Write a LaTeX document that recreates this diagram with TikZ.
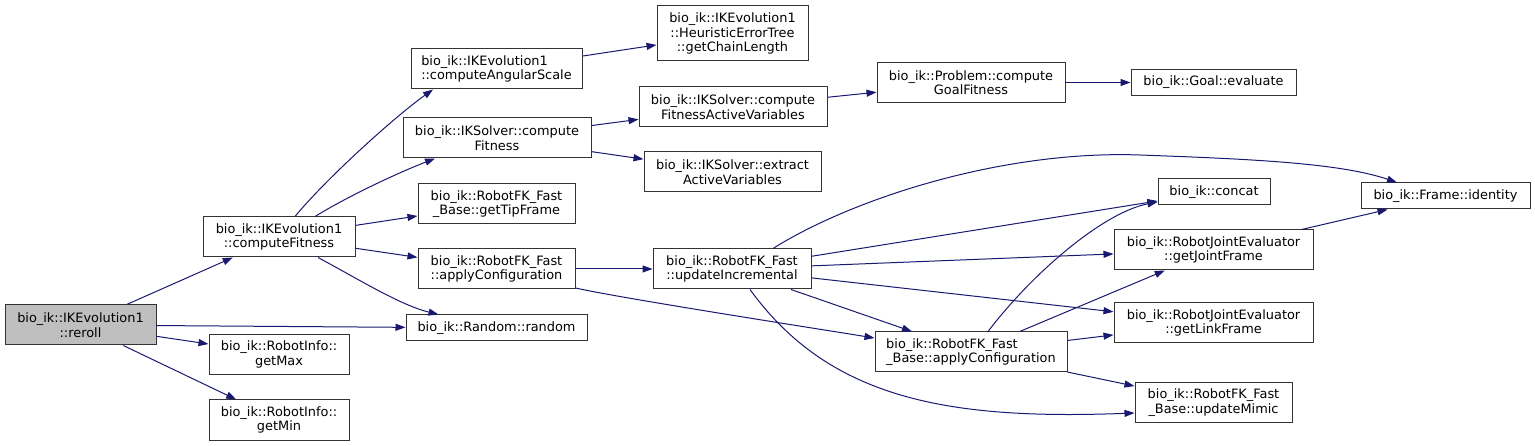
\documentclass[tikz,border=0pt]{standalone}
\usepackage{fontspec}
\setmainfont{DejaVu Sans}
\usepackage{tikz}
\usetikzlibrary{positioning,arrows.meta,calc}
\definecolor{EdgeBlue}{RGB}{25,25,112}
\tikzset{>={Triangle[length=10pt,width=7pt]}}
\tikzset{
  fn/.style={draw=black!80, line width=1pt, rectangle, inner sep=0pt, minimum height=40pt, align=center,
    font=\fontsize{12.9pt}{14.5pt}\selectfont},
  call/.style={EdgeBlue, line width=1pt, ->}
}
\begin{document}
\begin{tikzpicture}[x=1pt, y=-1pt]
  \useasboundingbox (0,0) rectangle (1535,446);
  % first column
  \node[fn, fill=black!25, minimum width=151pt] (reroll) at (80.5,325) {bio\_ik::IKEvolution1\\::reroll};
  % second column
  \node[fn, minimum width=152pt] (cf) at (279,237) {bio\_ik::IKEvolution1\\::computeFitness};
  \node[fn, minimum width=140pt] (max) at (279,354.5) {bio\_ik::RobotInfo::\\getMax};
  \node[fn, minimum width=140pt] (min) at (279,420) {bio\_ik::RobotInfo::\\getMin};
  % third column
  \node[fn, minimum width=171pt, align=left] (asc) at (496.5,69) {bio\_ik::IKEvolution1\\::computeAngularScale};
  \node[fn, minimum width=188pt] (iks) at (497,138) {bio\_ik::IKSolver::compute\\Fitness};
  \node[fn, minimum width=157pt] (tip) at (496.5,204) {bio\_ik::RobotFK\_Fast\\\_Base::getTipFrame};
  \node[fn, minimum width=157pt] (ac) at (496.5,269) {bio\_ik::RobotFK\_Fast\\::applyConfiguration};
  \node[fn, minimum width=181pt, minimum height=26pt] (rnd) at (496.5,328) {bio\_ik::Random::random};
  % fourth column
  \node[fn, minimum width=151pt, minimum height=55pt] (gcl) at (732.5,33.5) {bio\_ik::IKEvolution1\\::HeuristicErrorTree\\::getChainLength};
  \node[fn, minimum width=188pt] (fav) at (733,107) {bio\_ik::IKSolver::compute\\FitnessActiveVariables};
  \node[fn, minimum width=177pt] (eav) at (732.5,172) {bio\_ik::IKSolver::extract\\ActiveVariables};
  \node[fn, minimum width=158pt] (ui) at (732,269) {bio\_ik::RobotFK\_Fast\\::updateIncremental};
  % fifth column
  \node[fn, minimum width=188pt] (prob) at (971,82.5) {bio\_ik::Problem::compute\\GoalFitness};
  \node[fn, minimum width=192pt, align=left] (bac) at (971,352) {bio\_ik::RobotFK\_Fast\\\_Base::applyConfiguration};
  % sixth column
  \node[fn, minimum width=165pt, minimum height=26pt] (goal) at (1213.5,82.5) {bio\_ik::Goal::evaluate};
  \node[fn, minimum width=112pt, minimum height=26pt] (concat) at (1214,192) {bio\_ik::concat};
  \node[fn, minimum width=199pt] (gjf) at (1213.5,250) {bio\_ik::RobotJointEvaluator\\::getJointFrame};
  \node[fn, minimum width=199pt] (glf) at (1213.5,323) {bio\_ik::RobotJointEvaluator\\::getLinkFrame};
  \node[fn, minimum width=157pt] (mimic) at (1213.5,402.5) {bio\_ik::RobotFK\_Fast\\\_Base::updateMimic};
  % last column
  \node[fn, minimum width=169pt, minimum height=26pt] (ident) at (1445.5,196) {bio\_ik::Frame::identity};
  % straight calls
  \foreach \a/\b in {reroll/cf, reroll/rnd, reroll/max, reroll/min, cf/tip, cf/ac, asc/gcl, iks/fav, iks/eav,
      fav/prob, prob/goal, ac/ui, ui/concat, ui/gjf, ui/glf, ui/bac, bac/gjf, bac/glf, bac/mimic, gjf/ident}{
    \draw[call] (\a) -- (\b);
  }
  % curved calls
  \draw[call] ([xshift=16pt]cf.north) .. controls (325,180) and (393,118) .. ([xshift=-63.5pt]asc.south);
  \draw[call] ([xshift=36pt]cf.north) .. controls (350,195) and (400,172) .. ([xshift=-62pt]iks.south);
  \draw[call] ([xshift=39pt]cf.south) .. controls (360,280) and (400,305) .. ([xshift=-58pt]rnd.north);
  \draw[call] ([yshift=-19pt]ac.east) .. controls (620,298) and (800,326) .. ([yshift=14pt]bac.west);
  \draw[call] ([xshift=41pt]ui.north) .. controls (850,200) and (1000,150) .. (1140,155)
    .. controls (1250,159) and (1340,163) .. ([xshift=-48.5pt]ident.north);
  \draw[call] ([xshift=18pt]ui.south) .. controls (830,400) and (950,420) .. ([yshift=-10.5pt]mimic.west);
  \draw[call] ([xshift=17pt]bac.north) .. controls (1035,270) and (1105,212) .. ([yshift=-10pt]concat.west);
\end{tikzpicture}
\end{document}
